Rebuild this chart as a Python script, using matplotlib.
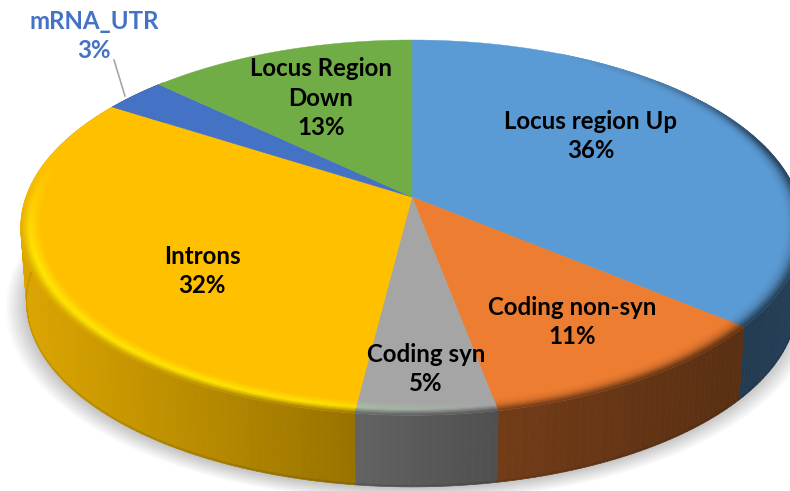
import numpy as np
import matplotlib
matplotlib.use("Agg")
import matplotlib.pyplot as plt
from matplotlib.collections import PolyCollection
from matplotlib.colors import to_rgb

categories = ["Locus region Up", "Coding non-syn", "Coding syn", "Introns", "mRNA_UTR", "Locus Region\nDown"]
percent = [36, 11, 5, 32, 3, 13]
colors = ["#5B9BD5", "#ED7D31", "#A5A5A5", "#FFC000", "#4472C4", "#70AD47"]

W, H = 790, 491
fig = plt.figure(figsize=(W / 100, H / 100), dpi=100)
ax = fig.add_axes([0, 0, 1, 1])
ax.set_xlim(0, W)
ax.set_ylim(H, 0)
ax.axis("off")

CX, CY, A, B, K, DEPTH, SHRINK = 412, 197, 386, 182.6, 0.163, 75, 0.015


def project(r, th, z=0.0):
    x, y = r * np.sin(th), r * np.cos(th)
    s = 1 - SHRINK * z
    den = 1 + K * y
    return CX + A * s * x / den, CY + DEPTH * z - B * s * y / den


frac = np.array(percent, dtype=float) / sum(percent)
edges = np.concatenate([[0], np.cumsum(frac)]) * 2 * np.pi
rgb = [np.array(to_rgb(c)) for c in colors]

# soft shadow below the disc
all_th = np.linspace(0, 2 * np.pi, 361)
for g in np.linspace(1.05, 1.0, 14):
    px, py = project(g, all_th, 1.0)
    ax.fill(px - 1, py + 2, color="black", alpha=0.017, lw=0, zorder=1)


def wall_shade(x):
    return np.interp(x, [25, 350, 500, 735, 790], [0.86, 0.60, 0.48, 0.38, 0.40])


# side wall
polys, cols = [], []
for b, (t0, t1) in enumerate(zip(edges[:-1], edges[1:])):
    ths = np.linspace(t0, t1, max(2, int(np.degrees(t1 - t0)) + 1))
    for a0, a1 in zip(ths[:-1], ths[1:]):
        if np.cos((a0 + a1) / 2) > 0.7:
            continue
        for z0, z1, dark in ((0, 0.975, 1.0), (0.975, 1.0, 0.9)):
            x00, y00 = project(1, a0, z0)
            x01, y01 = project(1, a1, z0)
            x11, y11 = project(1, a1, z1)
            x10, y10 = project(1, a0, z1)
            polys.append([(x00, y00), (x01, y01), (x11, y11), (x10, y10)])
            cols.append(rgb[b] * wall_shade((x00 + x01) / 2) * dark)
ax.add_collection(PolyCollection(polys, facecolors=cols, edgecolors=cols, linewidths=0.5, zorder=2))

# flat top
for b, (t0, t1) in enumerate(zip(edges[:-1], edges[1:])):
    ths = np.linspace(t0, t1, 200)
    px, py = project(1, ths)
    ax.fill(np.r_[CX, px], np.r_[CY, py], color=colors[b], lw=0.3, zorder=3)

# bevelled rim
polys, cols = [], []
bands = np.linspace(0.95, 1.0, 12)
for b, (t0, t1) in enumerate(zip(edges[:-1], edges[1:])):
    ths = np.linspace(t0, t1, max(2, int(np.degrees(t1 - t0)) + 1))
    for a0, a1 in zip(ths[:-1], ths[1:]):
        mid = (a0 + a1) / 2
        yy, xx = np.cos(mid), np.sin(mid)
        w = np.clip((0.2 - yy) / 0.5, 0, 1) if xx < 0 else np.clip((0.9 - yy) / 0.6, 0, 1)
        if w <= 0:
            continue
        x_mid, _ = project(1, mid)
        shade = wall_shade(x_mid)
        glow = np.interp(x_mid, [0, 320, 380, 500, 800], [0.5, 0.45, 0.25, 0.0, 0.0])
        bright = np.clip(rgb[b] + np.array([0.0, 0.14, 0.0]) * glow * 2 + 0.03 * glow, 0, 1)
        for r0, r1 in zip(bands[:-1], bands[1:]):
            t = ((r0 + r1) / 2 - bands[0]) / (bands[-1] - bands[0])
            if t < 0.55:
                if glow > 0:
                    c = rgb[b] + (bright - rgb[b]) * (t / 0.55)
                else:
                    c = rgb[b] + (rgb[b] * shade - rgb[b]) * (t / 0.55) ** 2 * 0.25
            else:
                start = bright if glow > 0 else rgb[b] * (1 - 0.25 * (1 - shade))
                c = start + (rgb[b] * shade - start) * ((t - 0.55) / 0.45)
            c = rgb[b] + (c - rgb[b]) * w
            q = [project(r0, a0), project(r0, a1), project(r1, a1), project(r1, a0)]
            polys.append(q)
            cols.append(np.clip(c, 0, 1))
ax.add_collection(PolyCollection(polys, facecolors=cols, edgecolors=cols, linewidths=0.4, zorder=4))

# labels
font = dict(family="Lato", fontweight="bold", fontsize=17.3, ha="center", va="center", zorder=6, linespacing=1.32)
label_xy = [(591, 136), (572, 322), (426, 369), (202, 271), (94, 36), (321, 98)]
for i, (name, p, (lx, ly)) in enumerate(zip(categories, percent, label_xy)):
    col = colors[i] if name == "mRNA_UTR" else "black"
    ax.text(lx, ly, f"{name}\n{p}%", color=col, **font)

ax.plot([114, 125], [60, 96], color="#A6A6A6", lw=1.2, zorder=5)
fig.savefig("out.png", dpi=100)
